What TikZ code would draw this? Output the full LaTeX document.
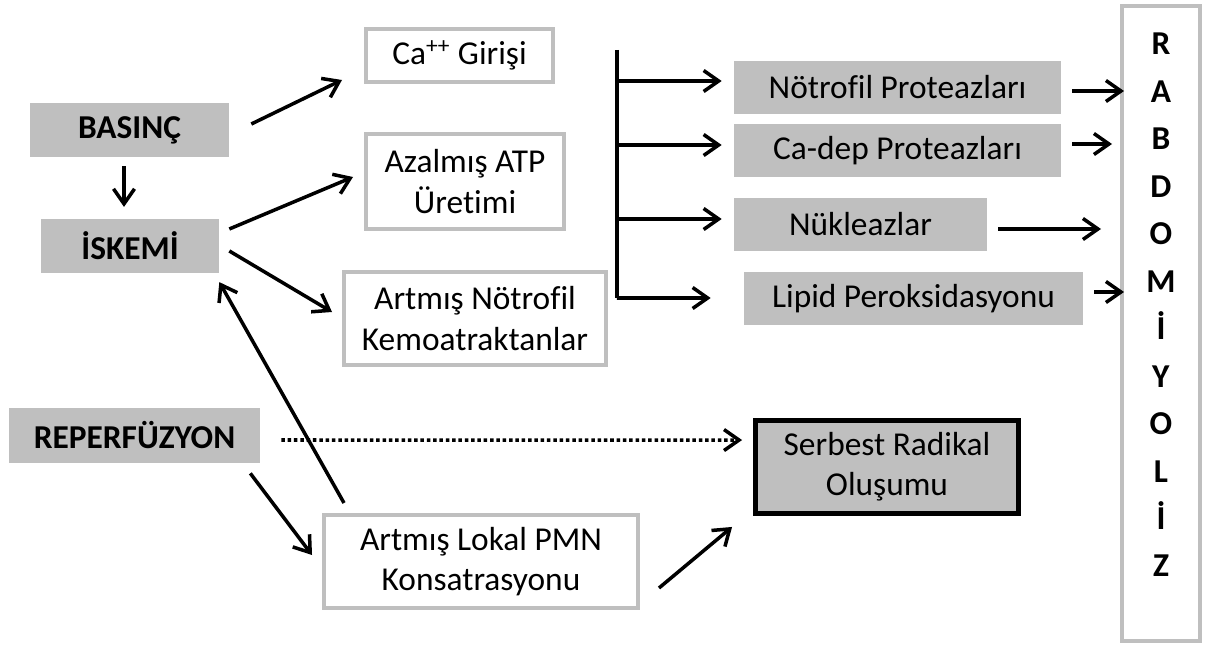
\documentclass[tikz,border=0pt]{standalone}
\usepackage{fontspec}
\setmainfont{Carlito}[Ligatures=NoCommon]
\usetikzlibrary{arrows.meta,calc}
\definecolor{boxgray}{RGB}{191,191,191}
\begin{document}
\begin{tikzpicture}[x=0.02cm,y=-0.02cm,
  every node/.style={font=\fontsize{19}{23}\selectfont,inner sep=0pt,align=center},
  gbox/.style={fill=boxgray,minimum height=1.07cm},
  wbox/.style={fill=white,draw=boxgray,line width=2.3pt},
  bbox/.style={fill=boxgray,draw=black,line width=2.8pt},
  arr/.style={line width=2pt,-{Straight Barb[length=3mm,width=4.2mm]}},
  dotarr/.style={arr,dash pattern=on 2pt off 1.6pt}]
\useasboundingbox (0,0) rectangle (1213,645);
\node[gbox,minimum width=3.98cm] (basinc) at (129.5,130) {\textbf{BASINÇ}};
\node[gbox,minimum width=3.56cm] (iskemi) at (130,246) {\textbf{İSKEMİ}};
\node[gbox,minimum width=5.02cm,minimum height=1.1cm] (reperf) at (134.5,435.5) {\textbf{REPERFÜZYON}};
\node[wbox,minimum width=3.74cm,minimum height=1.06cm] (ca) at (459.5,55.5) {Ca\textsuperscript{++} Girişi};
\node[wbox,minimum width=3.96cm,minimum height=1.9cm] (atp) at (465,181.5) {Azalmış ATP\\Üretimi};
\node[wbox,minimum width=5.24cm,minimum height=1.86cm] (kemo) at (475,318.5) {Artmış Nötrofil\\Kemoatraktanlar};
\node[wbox,minimum width=6.28cm,minimum height=1.86cm] (pmn) at (481,561.5) {Artmış Lokal PMN\\Konsatrasyonu};
\node[gbox,minimum width=6.54cm] (notro) at (897.5,87.5) {Nötrofil Proteazları};
\node[gbox,minimum width=6.54cm] (cadep) at (897.5,150.5) {Ca-dep Proteazları};
\node[gbox,minimum width=5.06cm] (nuk) at (860.5,224.5) {Nükleazlar};
\node[gbox,minimum width=6.78cm] (lipid) at (913.5,298.5) {Lipid Peroksidasyonu};
\node[bbox,minimum width=5.26cm,minimum height=1.86cm] (serbest) at (887,467) {Serbest Radikal\\Oluşumu};
\node[wbox,minimum width=1.56cm,minimum height=12.7cm] (rabdo) at (1161,323.5) {};
\foreach \c [count=\i] in {R,A,B,D,O,M,İ,Y,O,L,İ,Z}
  \node[anchor=base] (harf\i) at (1161,55+47.45*\i-47.45) {\textbf{\c}};
\draw[arr] ($(basinc.east)+(22,-6)$) -- ($(ca.west)+(-22,24.5)$);
\draw[arr] ($(basinc.south)+(-5.5,9)$) -- ($(iskemi.north)+(-6,-12)$);
\draw[arr] ($(iskemi.east)+(10,-17)$) -- ($(atp.west)+(-11,-4.5)$);
\draw[arr] ($(iskemi.east)+(10,5)$) -- ($(kemo.west)+(-10,-6.5)$);
\draw[arr] ($(pmn.north west)+(22,-10)$) -- ($(iskemi.south east)+(0,9)$);
\draw[arr] ($(reperf.south east)+(-10,10)$) -- ($(pmn.west)+(-10,-6.5)$);
\draw[dotarr] ($(reperf.east)+(21,4.5)$) -- ($(serbest.north west)+(-11,22)$);
\draw[arr] ($(pmn.east)+(19,26.5)$) -- ($(serbest.south west)+(-21,11)$);
\coordinate (bus) at (617,50);
\draw[line width=2pt] (bus) |- ($(lipid.west)+(-127,-0.5)$);
\draw[arr] ($(notro.west)+(-117,-6.5)$) -- ($(notro.west)+(-12,-6.5)$);
\draw[arr] ($(cadep.west)+(-117,-5.5)$) -- ($(cadep.west)+(-12,-5.5)$);
\draw[arr] ($(nuk.west)+(-117,-5.5)$) -- ($(nuk.west)+(-12,-5.5)$);
\draw[arr] ($(lipid.west)+(-127,-0.5)$) -- ($(lipid.west)+(-33,-0.5)$);
\draw[arr] ($(notro.east)+(11,3.5)$) -- ($(rabdo.west|-notro.east)+(4,3.5)$);
\draw[arr] ($(cadep.east)+(11,-6.5)$) -- ($(rabdo.west|-cadep.east)+(-8,-6.5)$);
\draw[arr] ($(nuk.east)+(11,4.5)$) -- ($(rabdo.west|-nuk.east)+(-19,4.5)$);
\draw[arr] ($(lipid.east)+(11,-6.5)$) -- ($(rabdo.west|-lipid.east)+(4,-6.5)$);
\end{tikzpicture}
\end{document}
